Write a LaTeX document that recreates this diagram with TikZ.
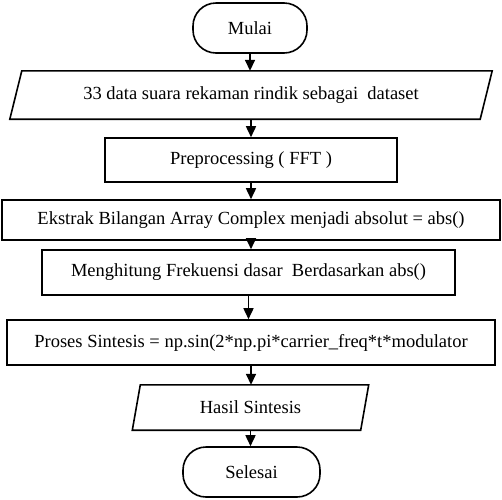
\documentclass[tikz,border=0pt]{standalone}
\usepackage{fontspec}
\setmainfont{Liberation Serif}
\usetikzlibrary{arrows.meta,calc}
\begin{document}
\begin{tikzpicture}[x=1pt,y=-1pt,
  txt/.style={inner sep=0pt, font=\fontsize{18.5}{22}\selectfont},
  box/.style={txt, draw, line width=1.6pt},
  term/.style={box, rounded corners=23pt},
  frame/.style={line width=1.6pt},
  arr/.style={line width=1.6pt, -{Triangle[width=10pt,length=11pt]}}]
\useasboundingbox (0,0) rectangle (502,499);

\node[term, minimum width=114pt, minimum height=50pt] (mulai) at (250,28) {Mulai};

\node[txt, minimum width=440pt, minimum height=48pt] (in) at (251,95) {33 data suara rekaman rindik sebagai\ \ dataset};
\draw[frame] ($(in.north west)+(-9,0)$) -- ($(in.north east)+(21,0)$) -- ($(in.south east)+(9,0)$) -- ($(in.south west)+(-21,0)$) -- cycle;

\node[box, minimum width=292pt, minimum height=44pt] (pre) at (251,160) {Preprocessing ( FFT )};
\node[box, minimum width=498pt, minimum height=40pt] (eks) at (251,220) {Ekstrak Bilangan Array Complex menjadi absolut = abs()};
\node[box, minimum width=413pt, minimum height=45pt] (meng) at (248.5,272.5) {Menghitung Frekuensi dasar\ \ Berdasarkan abs()};
\node[box, minimum width=488pt, minimum height=45pt] (pros) at (251,342.5) {Proses Sintesis = np.sin(2*np.pi*carrier\_freq*t*modulator};

\node[txt, minimum width=210pt, minimum height=45pt] (hasil) at (250.5,407.5) {Hasil Sintesis};
\draw[frame] ($(hasil.north west)+(-5,0)$) -- ($(hasil.north east)+(13,0)$) -- ($(hasil.south east)+(5,0)$) -- ($(hasil.south west)+(-13,0)$) -- cycle;

\node[term, minimum width=137pt, minimum height=50pt] (sel) at (251.5,472) {Selesai};

\draw[arr] (mulai.south) -- (mulai.south |- in.north);
\draw[arr] (in.south) -- (in.south |- pre.north);
\draw[arr] (pre.south) -- (pre.south |- eks.north);
\draw[arr] (eks.south) -- (eks.south |- meng.north);
\draw[arr] (meng.south) -- (meng.south |- pros.north);
\draw[arr] (pros.south) -- (pros.south |- hasil.north);
\draw[arr] (hasil.south) -- (hasil.south |- sel.north);
\end{tikzpicture}
\end{document}
